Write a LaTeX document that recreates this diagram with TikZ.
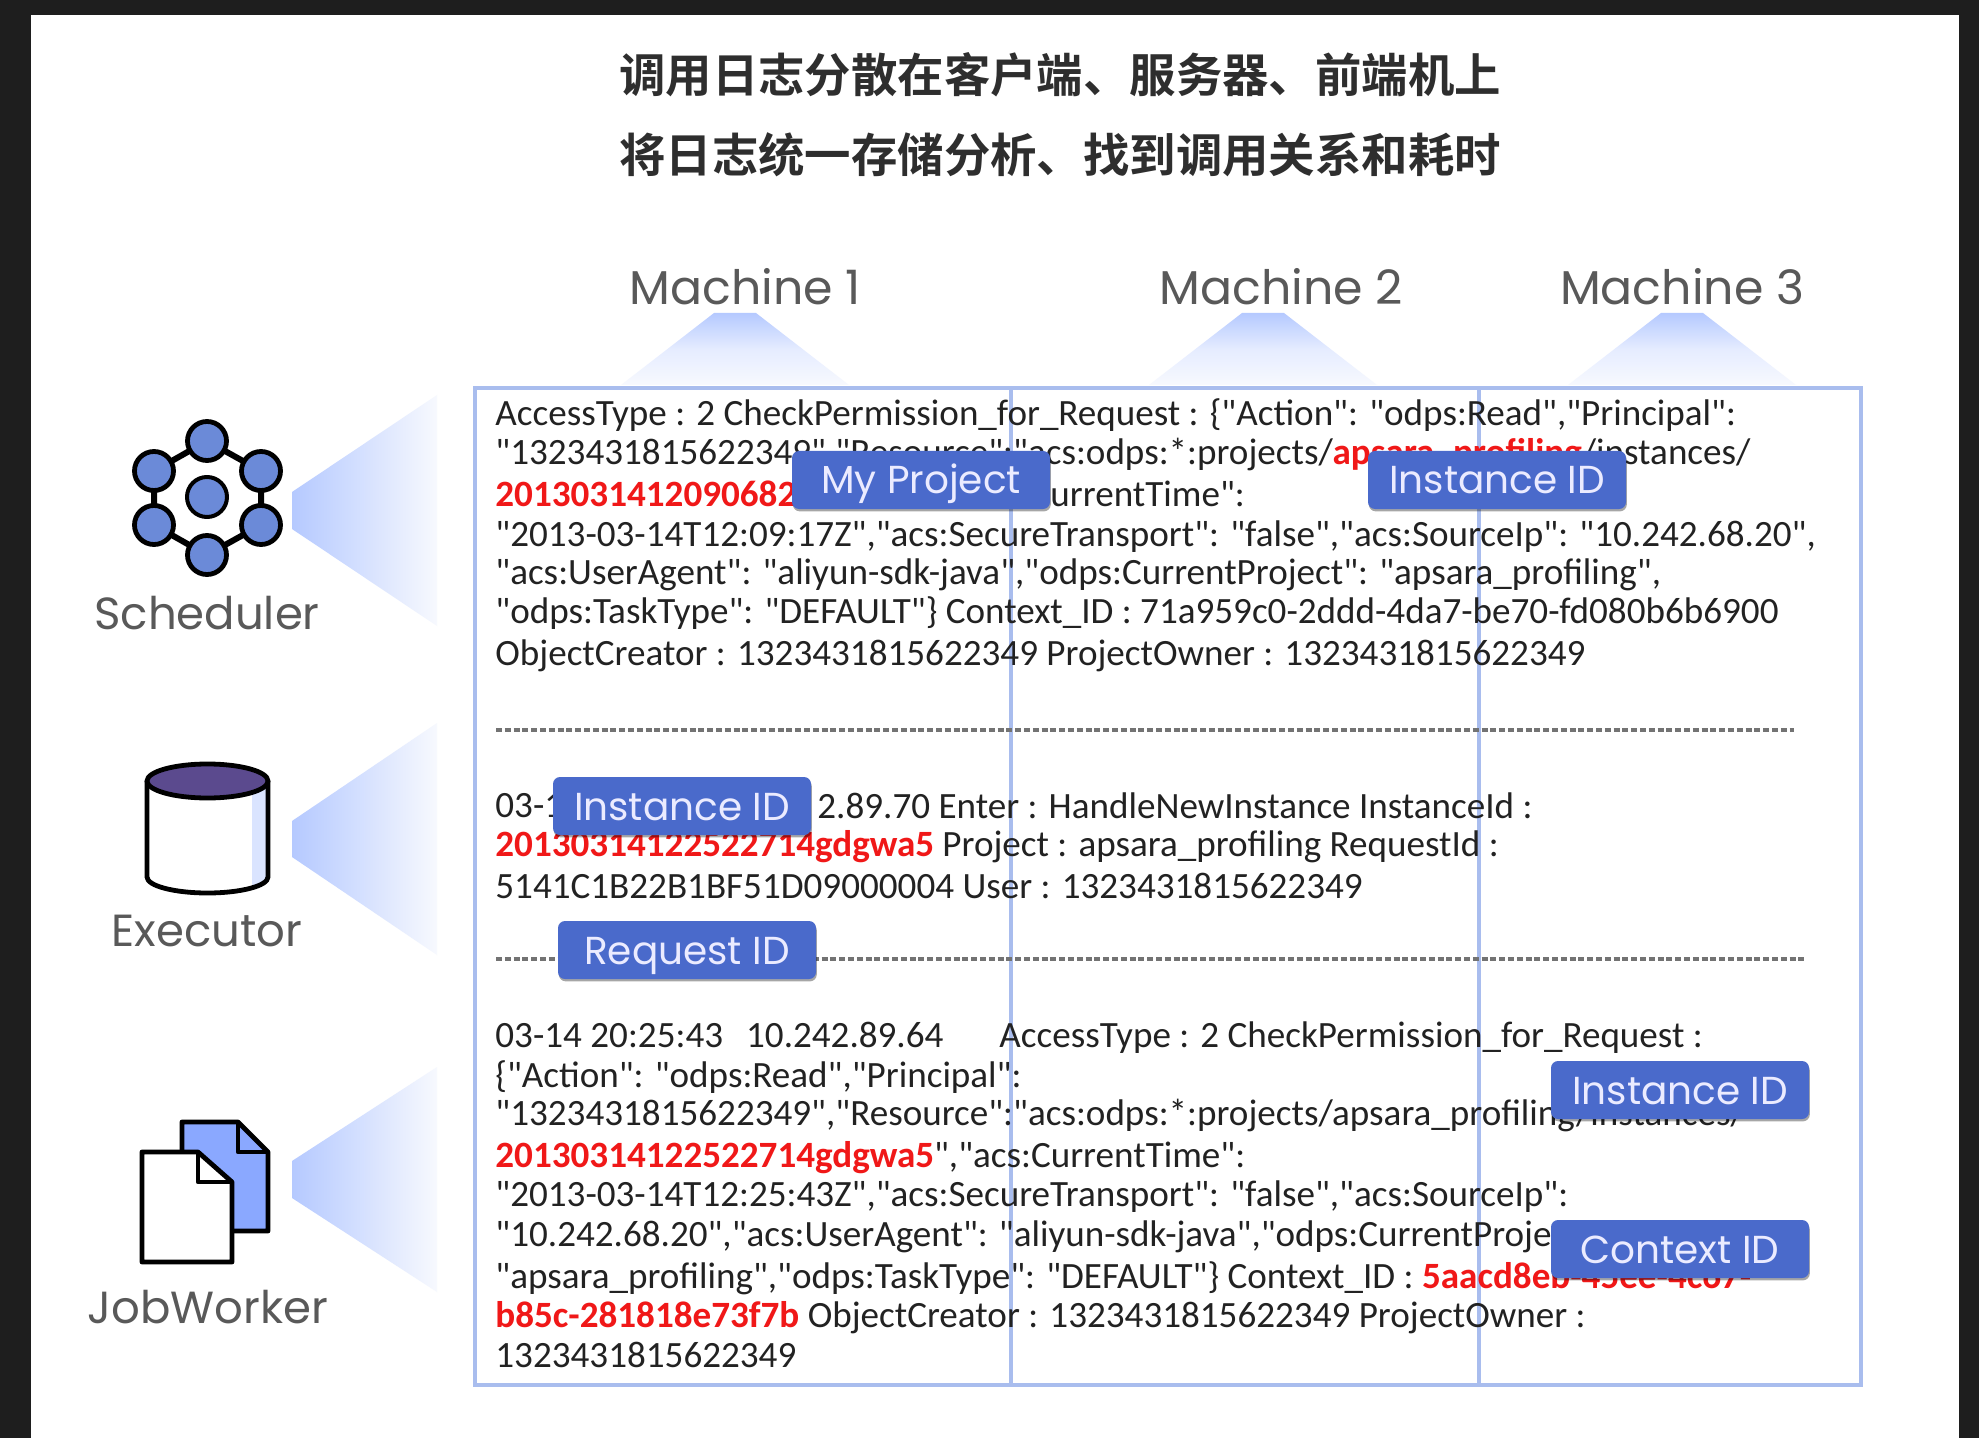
\documentclass[tikz,border=0pt]{standalone}
\usepackage{fontspec}
\newfontfamily\logf{Carlito}
\newfontfamily\cjkb[BoldFont={Noto Sans CJK SC Bold}]{Noto Sans CJK SC}
\newfontfamily\geo{Poppins}
\definecolor{bgdark}{HTML}{1E1E1E}
\definecolor{gridblue}{HTML}{A9BDEE}
\definecolor{tagblue}{HTML}{4A6ACB}
\definecolor{fadeblue}{HTML}{B5C9FF}
\definecolor{fadeend}{HTML}{F7F9FE}
\definecolor{txt}{HTML}{222222}
\definecolor{hot}{HTML}{F01818}
\definecolor{icn}{HTML}{6B8AD8}
\definecolor{docblue}{HTML}{8AA8FF}
\definecolor{lid}{HTML}{5B4A8E}
\usetikzlibrary{shadows}
\tikzset{
 logline/.style={anchor=west,inner sep=0pt,text=txt,yshift=-1.2pt,font=\logf\fontsize{18.55}{18.55}\selectfont},
 title/.style={anchor=center,inner sep=0pt,text=black!82,font=\cjkb\bfseries\fontsize{23.2}{23.2}\selectfont},
 head/.style={anchor=center,inner sep=0pt,text=black!65,yshift=0.4pt,font=\geo\fontsize{23.7}{23.7}\selectfont},
 sidehead/.style={anchor=center,inner sep=0pt,text=black!65,font=\geo\fontsize{22.5}{22.5}\selectfont},
 tag/.style={fill=tagblue,rounded corners=3.5pt,text=white!92!blue,minimum width=129pt,minimum height=29pt,inner sep=0pt,anchor=center,
   text height=14pt,text depth=0pt,
   font=\geo\fontsize{19.5}{19.5}\selectfont,drop shadow={shadow xshift=0.4pt,shadow yshift=-1.2pt,opacity=.35,fill=black}},
 gridline/.style={draw=gridblue,line width=1.9pt},
 sep/.style={draw=black!55,line width=1.6pt,dash pattern=on 3pt off 1.4pt},
 ic/.style={draw=black,line width=2.4pt,line join=round},
}
\begin{document}
\begin{tikzpicture}[x=0.5pt,y=-0.5pt]
\useasboundingbox (0,0) rectangle (1979,1438);
\fill[bgdark] (0,0) rectangle (1979,1438);
\fill[white] (31,15) rectangle (1959,1438);
% title
\node[title] (t1) at (1060,75) {调用日志分散在客户端、服务器、前端机上};
\node[title] (t2) at (1060,155) {将日志统一存储分析、找到调用关系和耗时};
% machine wedges
\foreach \c in {735,1263,1682}{
 \shade[top color=fadeblue,bottom color=fadeend,middle color=fadeblue!35!white] (\c-21,313) -- (\c+21,313) -- (\c+114,385) -- (\c-114,385) -- cycle;
}
\node[head] (m1) at (745,287) {Machine 1};
\node[head] (m2) at (1281,287) {Machine 2};
\node[head] (m3) at (1682,287) {Machine 3};
% side wedges
\shade[left color=fadeblue,right color=fadeend] (292,492) -- (437,395) -- (437,626) -- (292,529) -- cycle;
\shade[left color=fadeblue,right color=fadeend] (292,821) -- (437,723) -- (437,955) -- (292,857) -- cycle;
\shade[left color=fadeblue,right color=fadeend] (292,1161) -- (437,1067) -- (437,1292) -- (292,1198) -- cycle;
% grid
\draw[gridline] (475,388) rectangle (1861,1385);
\draw[gridline] (1011,388) -- (1011,1385);
\draw[gridline] (1479,388) -- (1479,1385);
% log text block 1
\node[logline] (a1) at (495,413) {AccessType : 2 CheckPermission\_for\_Request : \{"Action": "odps:Read","Principal":};
\node[logline] (a2) at (495,452) {"1323431815622349","Resource":"acs:odps:*:projects/\textcolor{hot}{\textbf{apsara\_profiling}}/instances/};
\node[logline,text=hot,font=\logf\bfseries\fontsize{18.55}{18.55}\selectfont] (a3) at (495,491) {2013031412090682};
\node[logline] (a3b) at (1050,491) {urrentTime":};
\node[logline] (a4) at (495,534) {"2013-03-14T12:09:17Z","acs:SecureTransport": "false","acs:SourceIp": "10.242.68.20",};
\node[logline] (a5) at (495,572) {"acs:UserAgent": "aliyun-sdk-java","odps:CurrentProject": "apsara\_profiling",};
\node[logline] (a6) at (495,611) {"odps:TaskType": "DEFAULT"\} Context\_ID : 71a959c0-2ddd-4da7-be70-fd080b6b6900};
\node[logline] (a7) at (495,653) {ObjectCreator : 1323431815622349 ProjectOwner : 1323431815622349};
\coordinate (s1a) at (496,730);
\coordinate (s1b) at (1794,730);
\draw[sep] (s1a) -- (s1b);
% block 2
\node[logline] (b1a) at (495,803) {03-1};
\node[logline] (b1b) at (817,803) {2.89.70 Enter : HandleNewInstance InstanceId :};
\node[logline] (b2) at (495,844) {\textcolor{hot}{\textbf{20130314122522714gdgwa5}} Project : apsara\_profiling RequestId :};
\node[logline] (b3) at (495,884) {5141C1B22B1BF51D09000004 User : 1323431815622349};
\coordinate (s2a) at (496,959);
\coordinate (s2b) at (1805,959);
\draw[sep] (s2a) -- (s2b);
% block 3
\node[logline] (c1) at (495,1035) {03-14 20:25:43\hspace{11.5pt}10.242.89.64\hspace{28pt}AccessType : 2 CheckPermission\_for\_Request :};
\node[logline] (c2) at (495,1075) {\{"Action": "odps:Read","Principal":};
\node[logline] (c3) at (495,1113) {"1323431815622349","Resource":"acs:odps:*:projects/apsara\_profiling/instances/};
\node[logline] (c4) at (495,1155) {\textcolor{hot}{\textbf{20130314122522714gdgwa5}}","acs:CurrentTime":};
\node[logline] (c5) at (495,1194) {"2013-03-14T12:25:43Z","acs:SecureTransport": "false","acs:SourceIp":};
\node[logline] (c6) at (495,1234) {"10.242.68.20","acs:UserAgent": "aliyun-sdk-java","odps:CurrentProject":};
\node[logline] (c7) at (495,1276) {"apsara\_profiling","odps:TaskType": "DEFAULT"\} Context\_ID : \textcolor{hot}{\textbf{5aacd8eb-45ee-4c67-}}};
\node[logline] (c8) at (495,1315) {\textcolor{hot}{\textbf{b85c-281818e73f7b}} ObjectCreator : 1323431815622349 ProjectOwner :};
\node[logline] (c9) at (495,1353) {1323431815622349};
% tags
\node[tag] (tp) at (921,480) {My Project};
\node[tag] (ti1) at (1497,480) {Instance ID};
\node[tag] (ti2) at (682,806) {Instance ID};
\node[tag] (tr) at (687,950) {Request ID};
\node[tag] (ti3) at (1680,1090) {Instance ID};
\node[tag] (tc) at (1680,1249) {Context ID};
% scheduler icon
\draw[ic,line width=3pt] (207,441) -- (261,471) -- (261,525) -- (207,555) -- (154,525) -- (154,471) -- cycle;
\foreach \p/\q in {207/441,154/471,261/471,154/525,261/525,207/555}{
 \filldraw[ic,fill=icn] (\p,\q) circle[radius=19.5];
}
\filldraw[ic,line width=2pt,fill=icn] (207,497) circle[radius=20];
\node[sidehead] (l1) at (207,613) {Scheduler};
% executor icon
\fill[white] (147,781) -- (147,877) arc[start angle=180,end angle=0,x radius=60.5,y radius=16] -- (268,781) -- cycle;
\begin{scope}
 \clip (147,781) -- (147,877) arc[start angle=180,end angle=0,x radius=60.5,y radius=16] -- (268,781) -- cycle;
 \fill[fadeblue!50] (252,770) rectangle (270,900);
\end{scope}
\draw[ic] (147,781) -- (147,877) arc[start angle=180,end angle=0,x radius=60.5,y radius=16] -- (268,781);
\filldraw[ic,fill=lid] (207.5,781) ellipse[x radius=60.5,y radius=17];
\node[sidehead] (l2) at (207,931) {Executor};
% jobworker icon
\filldraw[ic,fill=docblue] (182,1122) -- (238,1122) -- (268,1152) -- (268,1231) -- (182,1231) -- cycle;
\draw[ic] (238,1122) -- (238,1152) -- (268,1152);
\filldraw[ic,fill=white] (142,1152) -- (198,1152) -- (232,1182) -- (232,1262) -- (142,1262) -- cycle;
\draw[ic] (198,1152) -- (198,1182) -- (232,1182);
\node[sidehead] (l3) at (208,1307) {JobWorker};
\end{tikzpicture}
\end{document}
